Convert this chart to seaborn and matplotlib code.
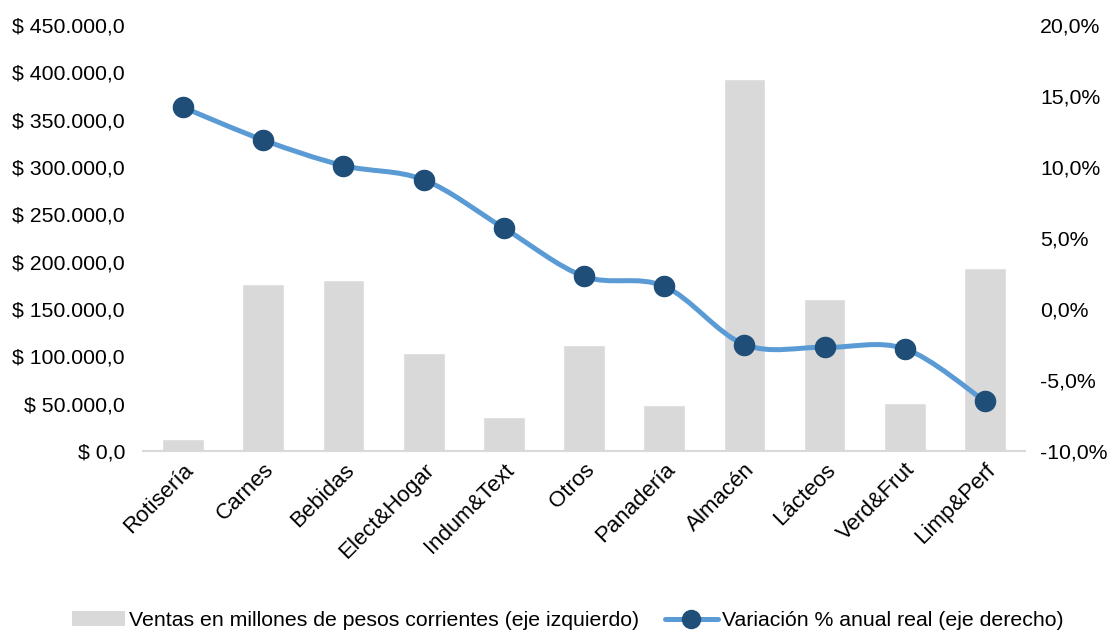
import numpy as np
import pandas as pd
import seaborn as sns
import matplotlib.pyplot as plt
from matplotlib.path import Path
from matplotlib.patches import PathPatch, Patch
from matplotlib.lines import Line2D
from matplotlib.ticker import FuncFormatter, MultipleLocator

categorias = ["Rotisería", "Carnes", "Bebidas", "Elect&Hogar", "Indum&Text", "Otros",
              "Panadería", "Almacén", "Lácteos", "Verd&Frut", "Limp&Perf"]
ventas = [12500, 176500, 180500, 103500, 36000, 112000, 48500, 393000, 160500, 51000, 193000]
variacion = [14.2, 11.9, 10.1, 9.1, 5.7, 2.3, 1.6, -2.5, -2.7, -2.8, -6.5]

sns.set_theme(style="white")
plt.rcParams["font.family"] = ["Liberation Sans", "DejaVu Sans"]
plt.rcParams["font.size"] = 15.3
plt.rcParams["text.color"] = "black"

df = pd.DataFrame({"cat": categorias, "ventas": ventas, "var": variacion})

fig = plt.figure(figsize=(11.13, 6.32), dpi=100)
ax = fig.add_axes([0.1285, 0.2864, 0.7925, 0.674])
sns.barplot(data=df, x="cat", y="ventas", color="#d9d9d9", saturation=1, width=0.52, ax=ax)
ax.set_xlim(-0.5, 10.5)
ax.set_ylim(0, 450000)
ax.yaxis.set_major_locator(MultipleLocator(50000))
ax.yaxis.set_major_formatter(FuncFormatter(
    lambda v, p: "$ " + f"{v:,.1f}".replace(",", "X").replace(".", ",").replace("X", ".")))
ax.set_xlabel("")
ax.set_ylabel("")
for s in ["top", "left", "right"]:
    ax.spines[s].set_visible(False)
ax.spines["bottom"].set_color("#d9d9d9")
ax.spines["bottom"].set_linewidth(1.5)
ax.tick_params(axis="y", length=0, labelsize=15.3, colors="black", pad=13)
ax.tick_params(axis="x", length=0, labelsize=16, colors="black", pad=6)
plt.setp(ax.get_xticklabels(), rotation=45, ha="right", rotation_mode="anchor")

ax2 = ax.twinx()
ax2.set_ylim(-10, 20)
ax2.yaxis.set_major_locator(MultipleLocator(5))
ax2.yaxis.set_major_formatter(FuncFormatter(lambda v, p: f"{v:.1f}%".replace(".", ",")))
for s in ax2.spines.values():
    s.set_visible(False)
ax2.tick_params(axis="y", length=0, labelsize=15.3, colors="black", pad=11)

# suavizado tipo Excel (Bezier Catmull-Rom)
x = np.arange(len(variacion), dtype=float)
pts = np.column_stack([x, variacion])
verts = [pts[0]]
codes = [Path.MOVETO]
n = len(pts)
for i in range(n - 1):
    p0 = pts[max(i - 1, 0)]
    p1 = pts[i]
    p2 = pts[i + 1]
    p3 = pts[min(i + 2, n - 1)]
    verts += [p1 + (p2 - p0) / 6, p2 - (p3 - p1) / 6, p2]
    codes += [Path.CURVE4] * 3
ax2.add_patch(PathPatch(Path(verts, codes), facecolor="none", edgecolor="#5b9bd5", lw=3.6,
                        capstyle="round", zorder=3))
ax2.plot(x, variacion, linestyle="none", marker="o", ms=14.5, color="#1f4e79", zorder=4)

handles = [Patch(facecolor="#d9d9d9", edgecolor="none"),
           Line2D([], [], color="#5b9bd5", lw=3.6, marker="o", ms=13,
                  markerfacecolor="#1f4e79", markeredgecolor="#1f4e79")]
labels = ["Ventas en millones de pesos corrientes (eje izquierdo)",
          "Variación % anual real (eje derecho)"]
fig.legend(handles, labels, loc="center", bbox_to_anchor=(0.51, 0.018), ncol=2, frameon=False,
           fontsize=15.3, handlelength=2.5, handletextpad=0.2, columnspacing=1.2)

fig.savefig("out.png", dpi=100)
